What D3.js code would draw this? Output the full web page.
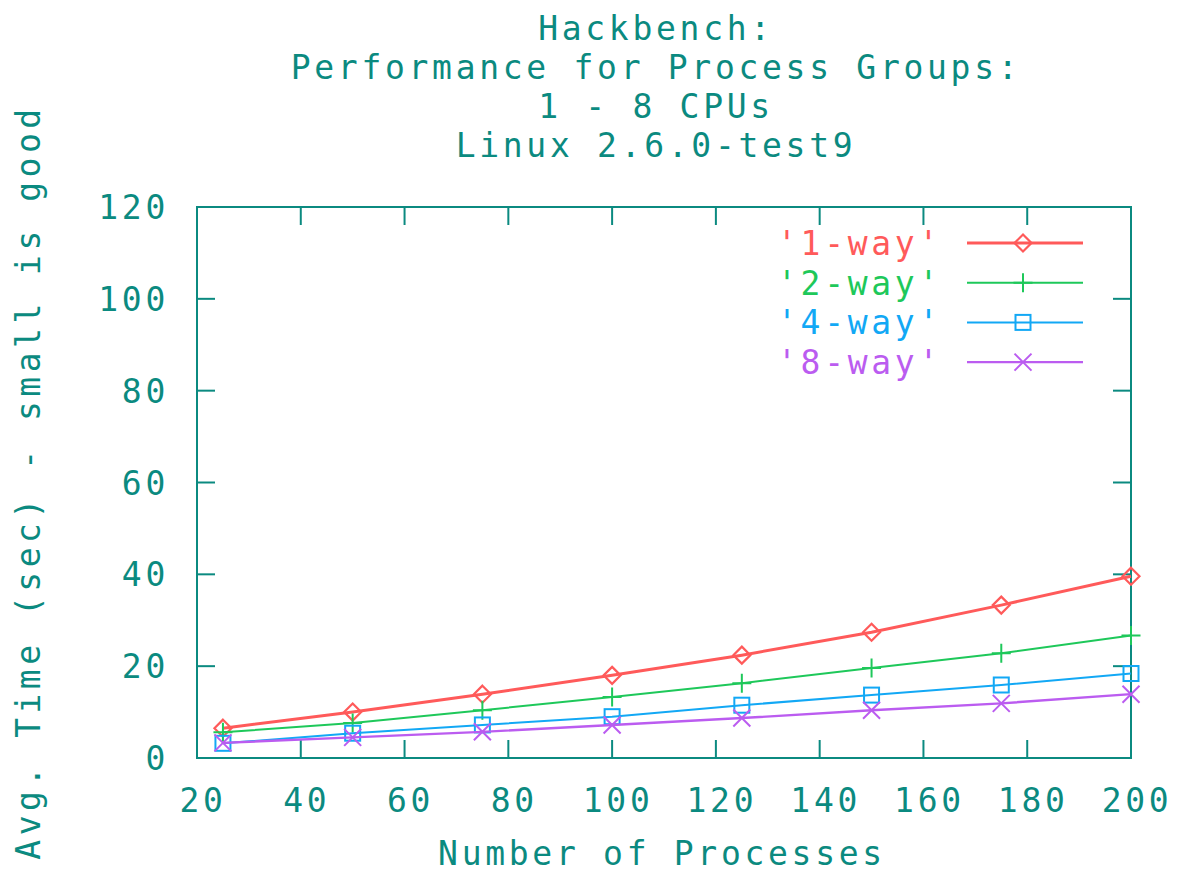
<!DOCTYPE html>
<html>
<head>
<meta charset="utf-8">
<script src="https://cdn.jsdelivr.net/npm/d3@7"></script>
<style>
  body { margin: 0; background: #fff; }
  text { font-family: 'DejaVu Sans Mono', monospace; font-size: 33px; fill: #0b8a80; letter-spacing: 3.7px; }
</style>
</head>
<body>
<svg></svg>
<script>
// Data
const processes = [25, 50, 75, 100, 125, 150, 175, 200]
const oneWay = [6.5, 10.0, 13.9, 18.0, 22.4, 27.4, 33.3, 39.6]
const twoWay = [5.6, 7.6, 10.4, 13.3, 16.3, 19.6, 22.8, 26.7]
const fourWay = [3.2, 5.4, 7.2, 9.0, 11.5, 13.7, 15.9, 18.4]
const eightWay = [3.3, 4.5, 5.7, 7.2, 8.7, 10.4, 11.9, 13.9]
const seriesNames = ["'1-way'", "'2-way'", "'4-way'", "'8-way'"]
const xTicks = [20, 40, 60, 80, 100, 120, 140, 160, 180, 200]
const yTicks = [0, 20, 40, 60, 80, 100, 120]
const titleLines = ['Hackbench:', 'Performance for Process Groups:', '1 - 8 CPUs', 'Linux 2.6.0-test9']

const width = 1184
const height = 875
const margin = { left: 197, right: 53, top: 207, bottom: 117 }
const axisColor = '#0b8a80'

const svg = d3.select('svg').attr('width', width).attr('height', height)

const x = d3.scaleLinear().domain([20, 200]).range([margin.left, width - margin.right])
const y = d3.scaleLinear().domain([0, 120]).range([height - margin.bottom, margin.top])

const series = [
  { name: seriesNames[0], values: oneWay, color: '#ff5a5a', marker: 'diamond', lw: 3 },
  { name: seriesNames[1], values: twoWay, color: '#1ec85a', marker: 'plus', lw: 2 },
  { name: seriesNames[2], values: fourWay, color: '#12a8f5', marker: 'square', lw: 2 },
  { name: seriesNames[3], values: eightWay, color: '#bb5cf0', marker: 'cross', lw: 2.4 },
]

// Title
svg.selectAll('.title')
  .data(titleLines)
  .enter()
  .append('text')
  .attr('class', 'title')
  .attr('x', 656)
  .attr('y', (d, i) => 40 + i * 39)
  .attr('text-anchor', 'middle')
  .text(d => d)

// Axes (gnuplot style: inward ticks, mirrored)
const tickLen = 18
const plot = svg.append('g')

plot.append('rect')
  .attr('x', x(20)).attr('y', y(120))
  .attr('width', x(200) - x(20)).attr('height', y(0) - y(120))
  .attr('fill', 'none').attr('stroke', axisColor).attr('stroke-width', 2)

const inner = xTicks.slice(1, -1)
plot.selectAll('.xt-bot').data(inner).enter().append('line')
  .attr('x1', d => x(d)).attr('x2', d => x(d))
  .attr('y1', y(0)).attr('y2', y(0) - tickLen)
  .attr('stroke', axisColor).attr('stroke-width', 2)
plot.selectAll('.xt-top').data(inner).enter().append('line')
  .attr('x1', d => x(d)).attr('x2', d => x(d))
  .attr('y1', y(120)).attr('y2', y(120) + tickLen)
  .attr('stroke', axisColor).attr('stroke-width', 2)

const innerY = yTicks.slice(1, -1)
plot.selectAll('.yt-l').data(innerY).enter().append('line')
  .attr('x1', x(20)).attr('x2', x(20) + tickLen)
  .attr('y1', d => y(d)).attr('y2', d => y(d))
  .attr('stroke', axisColor).attr('stroke-width', 2)
plot.selectAll('.yt-r').data(innerY).enter().append('line')
  .attr('x1', x(200)).attr('x2', x(200) - tickLen)
  .attr('y1', d => y(d)).attr('y2', d => y(d))
  .attr('stroke', axisColor).attr('stroke-width', 2)

svg.selectAll('.xl').data(xTicks).enter().append('text')
  .attr('x', d => x(d) + 6)
  .attr('y', y(0) + 54)
  .attr('text-anchor', 'middle')
  .text(d => d)

svg.selectAll('.yl').data(yTicks).enter().append('text')
  .attr('x', x(20) - 28)
  .attr('y', d => y(d) + 12)
  .attr('text-anchor', 'end')
  .text(d => d)

svg.append('text')
  .attr('x', 662).attr('y', 865)
  .attr('text-anchor', 'middle')
  .text('Number of Processes')

svg.append('text')
  .attr('transform', 'translate(40,482) rotate(-90)')
  .attr('text-anchor', 'middle')
  .style('letter-spacing', '4.5px')
  .text('Avg. Time (sec) - small is good')

// Markers
function drawMarker(g, type, cx, cy, color) {
  if (type === 'diamond') {
    const s = 8.5
    g.append('path')
      .attr('d', `M${cx},${cy - s}L${cx + s},${cy}L${cx},${cy + s}L${cx - s},${cy}Z`)
      .attr('fill', 'none').attr('stroke', color).attr('stroke-width', 2.2)
  } else if (type === 'plus') {
    const s = 9.5
    g.append('path')
      .attr('d', `M${cx - s},${cy}H${cx + s}M${cx},${cy - s}V${cy + s}`)
      .attr('stroke', color).attr('stroke-width', 2)
  } else if (type === 'square') {
    const s = 7.5
    g.append('rect')
      .attr('x', cx - s).attr('y', cy - s).attr('width', 2 * s).attr('height', 2 * s)
      .attr('fill', 'none').attr('stroke', color).attr('stroke-width', 2)
  } else {
    const s = 8.5
    g.append('path')
      .attr('d', `M${cx - s},${cy - s}L${cx + s},${cy + s}M${cx - s},${cy + s}L${cx + s},${cy - s}`)
      .attr('stroke', color).attr('stroke-width', 2)
  }
}

const line = d3.line().x(d => x(d[0])).y(d => y(d[1]))

series.forEach((s, i) => {
  const pts = processes.map((p, j) => [p, s.values[j]])
  const g = svg.append('g')
  g.append('path')
    .datum(pts)
    .attr('d', line)
    .attr('fill', 'none')
    .attr('stroke', s.color)
    .attr('stroke-width', s.lw)
  pts.forEach(p => drawMarker(g, s.marker, x(p[0]), y(p[1]), s.color))

  // legend
  const ly = 243 + i * 39.7
  svg.append('text')
    .attr('x', 942).attr('y', ly + 12)
    .attr('text-anchor', 'end')
    .style('fill', s.color)
    .text(s.name)
  g.append('line')
    .attr('x1', 967).attr('x2', 1083)
    .attr('y1', ly).attr('y2', ly)
    .attr('stroke', s.color).attr('stroke-width', s.lw)
  drawMarker(g, s.marker, 1023, ly, s.color)
})
</script>
</body>
</html>
